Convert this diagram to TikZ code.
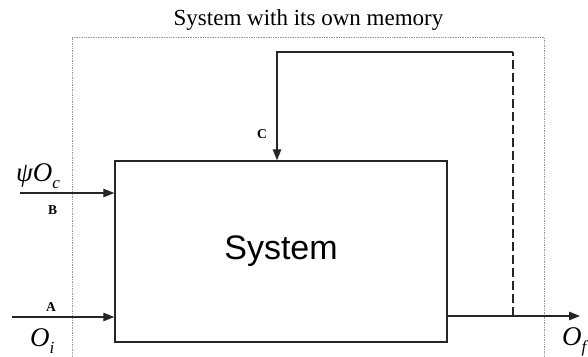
\documentclass[tikz,border=0pt]{standalone}
\usepackage{fontspec}
\setmainfont{Liberation Serif}
\newfontfamily\arialf{Liberation Sans}
\usetikzlibrary{arrows.meta}
\tikzset{
  conn/.style={line width=1.2pt, draw=black!85},
  arr/.style={conn, -{Triangle[length=11pt,width=8.5pt]}},
  frame/.style={draw=gray!80, line width=0.6pt, dash pattern=on 0.8pt off 0.9pt},
  sysbox/.style={draw=black!85, line width=1.4pt, minimum width=332pt, minimum height=181pt, inner sep=0pt, font=\arialf\fontsize{34}{34}\selectfont},
  biglbl/.style={inner sep=0pt, anchor=base west, font=\fontsize{27}{27}\selectfont\itshape},
  letlbl/.style={inner sep=0pt, anchor=base west, font=\fontsize{13.5}{13.5}\selectfont\bfseries},
  ttl/.style={inner sep=0pt, anchor=base, font=\fontsize{23}{23}\selectfont}
}
\newcommand{\lowsub}[1]{\raisebox{-7pt}{\fontsize{17}{17}\selectfont\itshape #1}}
\begin{document}
\begin{tikzpicture}[x=1pt,y=-1pt]
\useasboundingbox (0,0) rectangle (588,356);
% outer dotted frame
\draw[frame] (72,358) -- (72,37) -- (544,37) -- (544,358);
\node[ttl] (title) at (308.5,25.5) {System with its own memory};
% system box
\node[sysbox] (sys) at (281,251.5) {System};
% coordinates
\coordinate (bstart) at (20,193);
\coordinate (astart) at (12,317);
\coordinate (ctop) at (277,52);
\coordinate (rtop) at (513,52);
\coordinate (tap) at (513,316);
\coordinate (outend) at (580,316);
% inputs
\draw[arr] (bstart) -- (sys.west |- bstart);
\draw[arr] (astart) -- (sys.west |- astart);
% output
\draw[arr] (sys.east |- tap) -- (outend);
% feedback
\draw[conn, dash pattern=on 9pt off 4pt] (tap) -- (rtop);
\draw[arr] (rtop) -- (ctop) -- (ctop |- sys.north);
% labels
\node[biglbl] (lpsi) at (16,181) {ψO\lowsub{c}};
\node[letlbl] (lb) at (48,214) {B};
\node[letlbl] (la) at (46,311) {A};
\node[biglbl] (loi) at (30,346) {O\lowsub{i}};
\node[letlbl] (lc) at (257,138) {C};
\node[biglbl] (lof) at (562,345) {O\lowsub{f}};
\end{tikzpicture}
\end{document}
